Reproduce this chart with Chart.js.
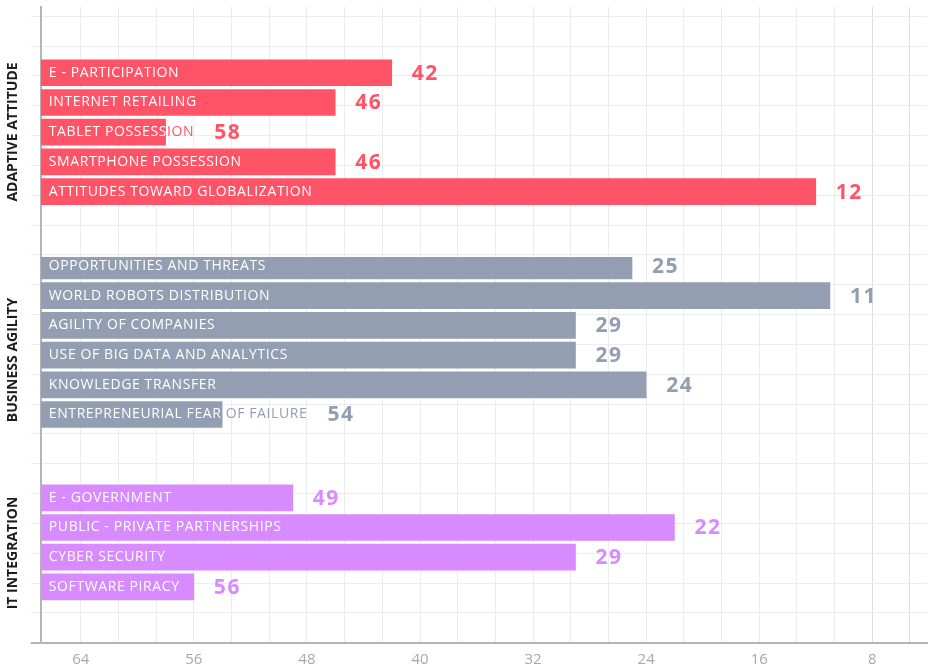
<!DOCTYPE html>
<html>
<head>
<meta charset="utf-8">
<title>Ranking by factor</title>
<script src="https://cdn.jsdelivr.net/npm/chart.js@4.4.1/dist/chart.umd.min.js"></script>
<style>
  html, body { margin: 0; padding: 0; background: #fff; }
  #wrap { width: 934px; height: 667px; position: relative; }
</style>
</head>
<body>
<div id="wrap"><canvas id="rankChart"></canvas></div>
<script>
// ranks per factor, grouped by sub-factor
const adaptiveLabels = ['E - PARTICIPATION', 'INTERNET RETAILING', 'TABLET POSSESSION', 'SMARTPHONE POSSESSION', 'ATTITUDES TOWARD GLOBALIZATION'];
const adaptiveRanks = [42, 46, 58, 46, 12];

const agilityLabels = ['OPPORTUNITIES AND THREATS', 'WORLD ROBOTS DISTRIBUTION', 'AGILITY OF COMPANIES', 'USE OF BIG DATA AND ANALYTICS', 'KNOWLEDGE TRANSFER', 'ENTREPRENEURIAL FEAR OF FAILURE'];
const agilityRanks = [25, 11, 29, 29, 24, 54];

const itLabels = ['E - GOVERNMENT', 'PUBLIC - PRIVATE PARTNERSHIPS', 'CYBER SECURITY', 'SOFTWARE PIRACY'];
const itRanks = [49, 22, 29, 56];

const groupTitles = ['ADAPTIVE ATTITUDE', 'BUSINESS AGILITY', 'IT INTEGRATION'];
const rankTicks = [64, 56, 48, 40, 32, 24, 16, 8];

// rank axis runs backwards: worst rank on the left
const RANK_MAX = 66.83;
const RANK_MIN = 4.13;
const GRID_STEP = 8 / 3;

const RED = '#ff5468';
const SLATE = '#939eb3';
const VIOLET = '#d78bff';

function rows(ranks) {
  return ranks.map((r, i) => ({ x: r, y: i }));
}

// one band per group, stacked down the left side (higher order = higher up)
function groupAxis(title, order, height, min, max) {
  return {
    type: 'linear',
    axis: 'y',
    position: 'left',
    stack: 'groups',
    stackWeight: height,
    weight: order,
    reverse: true,
    offset: false,
    min: min,
    max: max,
    ticks: { display: false },
    grid: { display: false, drawTicks: false, offset: false },
    border: { display: false },
    title: {
      display: true,
      text: title,
      color: '#1c1c1c',
      font: { family: '"Open Sans", sans-serif', size: 14, weight: 'bold' },
      padding: { top: 5, bottom: 9 }
    }
  };
}

// category names inside the bars, value after the bar
const barText = {
  id: 'barText',
  afterDatasetsDraw(chart) {
    const ctx = chart.ctx;
    chart.data.datasets.forEach((ds, di) => {
      const meta = chart.getDatasetMeta(di);
      meta.data.forEach((bar, i) => {
        const left = Math.min(bar.x, bar.base);
        const right = Math.max(bar.x, bar.base);
        const top = bar.y - bar.height / 2;
        const name = ds.names[i];
        const tx = left + 8;

        ctx.save();
        ctx.font = '400 14px "Open Sans", sans-serif';
        ctx.letterSpacing = '0.6px';
        ctx.textBaseline = 'middle';
        ctx.textAlign = 'left';
        // name in bar colour, then the part over the bar in white
        ctx.fillStyle = ds.backgroundColor;
        ctx.fillText(name, tx, bar.y);
        const textEnd = tx + ctx.measureText(name).width;

        ctx.save();
        ctx.beginPath();
        ctx.rect(left, top, right - left, bar.height);
        ctx.clip();
        ctx.fillStyle = '#ffffff';
        ctx.fillText(name, tx, bar.y);
        ctx.restore();

        ctx.font = '700 21px "Open Sans", sans-serif';
        ctx.letterSpacing = '1.5px';
        ctx.fillStyle = ds.backgroundColor;
        ctx.fillText(String(ds.data[i].x), Math.max(right, textEnd) + 20, bar.y + 1);
        ctx.restore();
      });
    });
  }
};

const ctx = document.getElementById('rankChart').getContext('2d');
new Chart(ctx, {
  type: 'bar',
  data: {
    datasets: [
      { names: adaptiveLabels, data: rows(adaptiveRanks), yAxisID: 'y1', backgroundColor: RED },
      { names: agilityLabels, data: rows(agilityRanks), yAxisID: 'y2', backgroundColor: SLATE },
      { names: itLabels, data: rows(itRanks), yAxisID: 'y3', backgroundColor: VIOLET }
    ].map(ds => Object.assign(ds, {
      xAxisID: 'x',
      base: RANK_MAX,
      barThickness: 26,
      grouped: false,
      borderWidth: 0
    }))
  },
  options: {
    indexAxis: 'y',
    responsive: true,
    maintainAspectRatio: false,
    animation: false,
    layout: { padding: { left: 0, right: 7, top: 7, bottom: -9 } },
    plugins: {
      legend: { display: false },
      tooltip: { enabled: false }
    },
    scales: {
      x: {
        type: 'linear',
        position: 'bottom',
        reverse: true,
        min: RANK_MIN,
        max: RANK_MAX,
        afterBuildTicks(scale) {
          const ticks = [];
          for (let n = 0; n <= 22; n++) ticks.push({ value: 64 - n * GRID_STEP });
          scale.ticks = ticks;
        },
        ticks: {
          autoSkip: false,
          maxRotation: 0,
          padding: 9,
          color: '#a8a8a8',
          font: { family: '"Open Sans", sans-serif', size: 15, lineHeight: 1 },
          callback(v) {
            const r = Math.round(v);
            return Math.abs(v - r) < 1e-6 && rankTicks.includes(r) ? String(r) : '';
          }
        },
        grid: {
          drawTicks: false,
          color: c => (c.tick && c.tick.value < 9 ? '#dedede' : '#ececec')
        },
        border: { color: '#b5b5b5', width: 2 }
      },
      // full-height horizontal grid, independent of the group bands
      yg: {
        type: 'linear',
        axis: 'y',
        position: 'left',
        weight: 0,
        min: 0,
        max: 20.3,
        afterBuildTicks(scale) {
          scale.ticks = Array.from({ length: 21 }, (_, i) => ({ value: i }));
        },
        ticks: { display: false },
        grid: {
          drawTicks: true,
          tickLength: 10,
          color: c => (c.tick && c.tick.value === 0 ? '#b5b5b5' : '#ececec'),
          lineWidth: c => (c.tick && c.tick.value === 0 ? 2 : 1)
        },
        border: { color: '#b5b5b5', width: 2 }
      },
      y1: groupAxis(groupTitles[0], 3, 250, -2.215, 6.203),
      y2: groupAxis(groupTitles[1], 2, 206, -0.303, 6.633),
      y3: groupAxis(groupTitles[2], 1, 180, -1.172, 4.889)
    }
  },
  plugins: [barText]
});
</script>
</body>
</html>
